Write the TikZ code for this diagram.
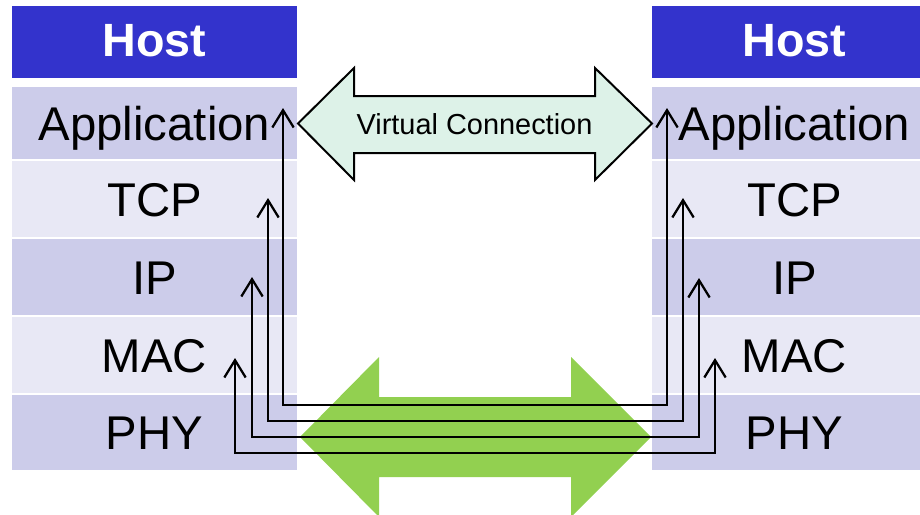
\documentclass[tikz,border=0pt]{standalone}
\usepackage{fontspec}
\setmainfont{Liberation Sans}
\usetikzlibrary{arrows.meta}
\definecolor{hostblue}{HTML}{3333CC}
\definecolor{laydark}{HTML}{CCCCEA}
\definecolor{laylight}{HTML}{E8E8F5}
\definecolor{vcfill}{HTML}{DDF2E8}
\definecolor{busgreen}{HTML}{92D050}
\tikzset{
  hostbox/.style={fill=hostblue, text=white, minimum width=213.75pt, minimum height=54pt, inner sep=0pt, text height=25pt, text depth=3pt, font=\fontsize{35}{40}\selectfont\bfseries},
  layer/.style={minimum width=213.75pt, inner sep=0pt, text height=25.5pt, text depth=0pt, font=\fontsize{35.5}{40}\selectfont},
  link/.style={line width=1.7pt, {Straight Barb[length=13pt,width=16pt]}-{Straight Barb[length=13pt,width=16pt]}}
}
\begin{document}
\begin{tikzpicture}[x=0.75pt,y=0.75pt,yscale=-1,xscale=1]
\useasboundingbox (0,0) rectangle (920,514);
% Left host stack
\node [hostbox] (lhost) at (154.5,42) {Host};
\node [layer, fill=laydark, minimum height=54pt] (lapp) at (154.5,123) {Application};
\node [layer, fill=laylight, minimum height=57pt] (ltcp) at (154.5,199) {TCP};
\node [layer, fill=laydark, minimum height=57pt] (lip) at (154.5,277) {IP};
\node [layer, fill=laylight, minimum height=57pt] (lmac) at (154.5,355) {MAC};
\node [layer, fill=laydark, minimum height=56.25pt] (lphy) at (154.5,432.5) {PHY};
% Right host stack
\node [hostbox] (rhost) at (794.5,42) {Host};
\node [layer, fill=laydark, minimum height=54pt] (rapp) at (794.5,123) {Application};
\node [layer, fill=laylight, minimum height=57pt] (rtcp) at (794.5,199) {TCP};
\node [layer, fill=laydark, minimum height=57pt] (rip) at (794.5,277) {IP};
\node [layer, fill=laylight, minimum height=57pt] (rmac) at (794.5,355) {MAC};
\node [layer, fill=laydark, minimum height=56.25pt] (rphy) at (794.5,432.5) {PHY};
% Virtual Connection arrow
\draw [fill=vcfill, line width=1.5pt, line join=miter] (298,123.5) -- (354,68) -- (354,96) -- (595,96) -- (595,68) -- (652,123.5) -- (595,180) -- (595,153) -- (354,153) -- (354,180) -- cycle ;
\node [font=\fontsize{21.7}{26}\selectfont, inner sep=0pt] (vc) at (474.5,124) {Virtual Connection};
% Physical link arrow
\fill [busgreen] (300,437) -- (379,357) -- (379,397) -- (571,397) -- (571,357) -- (651,437) -- (571,517) -- (571,477) -- (379,477) -- (379,517) -- cycle ;
% Peer connections
\coordinate (lappend) at (283,108);
\coordinate (rappend) at (667,108);
\coordinate (ltcpend) at (268,198);
\coordinate (rtcpend) at (683,198);
\coordinate (lipend) at (252,277);
\coordinate (ripend) at (699,278);
\coordinate (lmacend) at (235,358);
\coordinate (rmacend) at (715,358);
\coordinate (appbus) at (667,405);
\coordinate (tcpbus) at (683,421);
\coordinate (ipbus) at (699,437);
\coordinate (macbus) at (715,453);
\draw [link] (lappend) |- (appbus) -- (rappend) ;
\draw [link] (ltcpend) |- (tcpbus) -- (rtcpend) ;
\draw [link] (lipend) |- (ipbus) -- (ripend) ;
\draw [link] (lmacend) |- (macbus) -- (rmacend) ;
\end{tikzpicture}
\end{document}
